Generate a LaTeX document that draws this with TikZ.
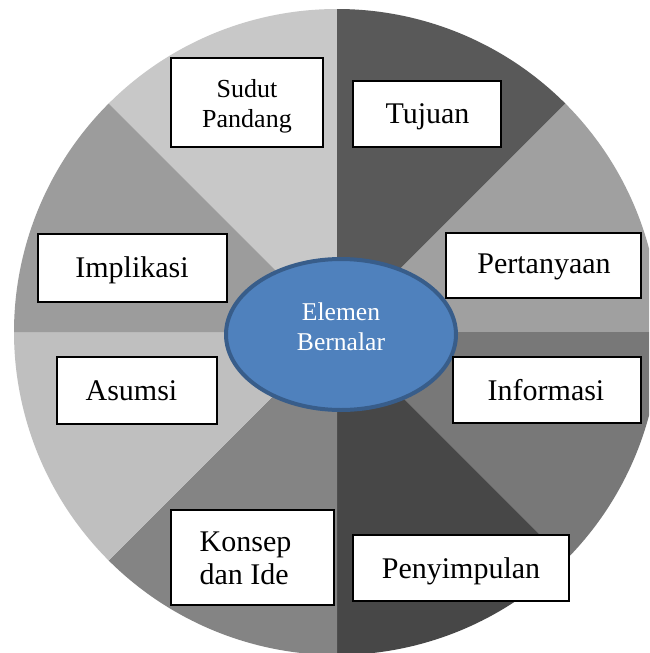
\documentclass[tikz,border=0pt]{standalone}
\usepackage{fontspec}
\setmainfont{Liberation Serif}
\usetikzlibrary{shapes.geometric}
\definecolor{gSudut}{HTML}{C8C8C8}
\definecolor{gTujuan}{HTML}{595959}
\definecolor{gPertanyaan}{HTML}{A0A0A0}
\definecolor{gInformasi}{HTML}{787878}
\definecolor{gPenyimpulan}{HTML}{474747}
\definecolor{gKonsep}{HTML}{848484}
\definecolor{gAsumsi}{HTML}{BFBFBF}
\definecolor{gImplikasi}{HTML}{9C9C9C}
\definecolor{ellFill}{HTML}{4F81BD}
\definecolor{ellLine}{HTML}{385D8A}
\begin{document}
\begin{tikzpicture}[x=1pt,y=-1pt,
  box/.style={draw=black, line width=2.4pt, fill=white, inner sep=0pt},
  lbl/.style={inner sep=0pt, anchor=base, font=\fontsize{30}{33}\selectfont},
  mlbl/.style={inner sep=0pt}]
\useasboundingbox (0,0) rectangle (649,653);
\clip (0,0) rectangle (649,653);
\fill[white] (0,0) rectangle (649,653);
\coordinate (C) at (337,332);
% sectors (angles flipped because y points down)
\fill[gSudut]      (C) -- ++(-90:323)  arc[start angle=-90,  end angle=-135, radius=323] -- cycle;
\fill[gTujuan]     (C) -- ++(-45:323)  arc[start angle=-45,  end angle=-90,  radius=323] -- cycle;
\fill[gPertanyaan] (C) -- ++(0:323)    arc[start angle=0,    end angle=-45,  radius=323] -- cycle;
\fill[gInformasi]  (C) -- ++(45:323)   arc[start angle=45,   end angle=0,    radius=323] -- cycle;
\fill[gPenyimpulan](C) -- ++(90:323)   arc[start angle=90,   end angle=45,   radius=323] -- cycle;
\fill[gKonsep]     (C) -- ++(135:323)  arc[start angle=135,  end angle=90,   radius=323] -- cycle;
\fill[gAsumsi]     (C) -- ++(180:323)  arc[start angle=180,  end angle=135,  radius=323] -- cycle;
\fill[gImplikasi]  (C) -- ++(225:323)  arc[start angle=225,  end angle=180,  radius=323] -- cycle;
% centre ellipse
\node[ellipse, draw=ellLine, fill=ellFill, line width=4pt, minimum width=230pt, minimum height=151pt, inner sep=0pt] (ell) at (341,334.5) {};
\node[mlbl, text=white, align=center, font=\fontsize{25.6}{30}\selectfont] (ellT) at (341,326.3) {Elemen\\Bernalar};
% boxes
\node[box, minimum width=151.6pt, minimum height=88.6pt] (sudut) at (247,102.5) {};
\node[box, minimum width=148.1pt, minimum height=65.6pt] (tujuan) at (427,114) {};
\node[box, minimum width=188.6pt, minimum height=67.6pt] (implikasi) at (132.5,268) {};
\node[box, minimum width=194.6pt, minimum height=64.6pt] (pertanyaan) at (543.5,265.5) {};
\node[box, minimum width=187.6pt, minimum height=65.6pt] (informasi) at (547,390) {};
\node[box, minimum width=159.6pt, minimum height=66.6pt] (asumsi) at (137,390.5) {};
\node[box, minimum width=162.6pt, minimum height=94.6pt] (konsep) at (252.5,557.5) {};
\node[box, minimum width=215.6pt, minimum height=65.6pt] (penyimpulan) at (461,568) {};
% texts
\node[mlbl, align=center, font=\fontsize{26}{30}\selectfont] (sudutT) at (247,106.6) {Sudut\\Pandang};
\node[lbl] (tujuanT) at (427.5,123.3) {Tujuan};
\node[lbl] (implikasiT) at (132,277.7) {Implikasi};
\node[lbl] (pertanyaanT) at (544,273.3) {Pertanyaan};
\node[lbl] (informasiT) at (546,400) {Informasi};
\node[lbl] (asumsiT) at (131.5,400.7) {Asumsi};
\node[lbl] (penyimpulanT) at (461,578) {Penyimpulan};
\node[mlbl, align=left, font=\fontsize{30}{33.3}\selectfont] (konsepT) at (245.5,558.4) {Konsep\\dan Ide};
\end{tikzpicture}
\end{document}
